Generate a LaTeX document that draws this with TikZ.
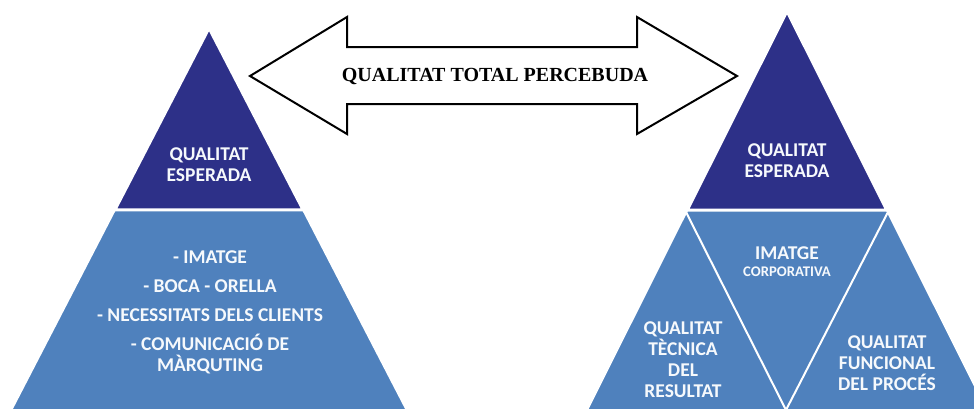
\documentclass[tikz,border=0pt]{standalone}
\usepackage{fontspec}
\setmainfont{Carlito}
\newfontfamily\titlefont{Liberation Serif}
\usepackage{xcolor}
\usetikzlibrary{calc}

\definecolor{darkblue}{RGB}{45,48,136}
\definecolor{lightblue}{RGB}{79,129,189}
\newcommand{\smalllabeltext}{\fontsize{14.7}{17}\selectfont}

\begin{document}
\begin{tikzpicture}[x=1pt, y=-1pt,
        level/.style={draw=white, line width=2pt, line join=round},
        toplevel/.style={level, fill=darkblue, line width=3pt},
        baselevel/.style={level, fill=lightblue},
        label/.style={align=center, text=white!95!lightblue, inner sep=0pt, font=\bfseries\fontsize{19.5}{21}\selectfont},
        bigarrow/.style={draw=black, line width=2pt, fill=white, line join=miter}]

        \useasboundingbox (0,0) rectangle (974,408);
        \clip (0,0) rectangle (974,408);

        % Left pyramid
        \coordinate (lapex) at (209,28);
        \coordinate (lbl) at (3,426);
        \coordinate (lbr) at (415,426);
        \filldraw[baselevel] (lapex) -- (lbl) -- (lbr) -- cycle;
        \filldraw[toplevel] (lapex) -- ($(lapex)!0.457!(lbl)$) -- ($(lapex)!0.457!(lbr)$) -- cycle;

        \node[label] (lesperada) at (209,165) {QUALITAT\\ESPERADA};
        \node[label] (lfactors) at (210,312) {- IMATGE\\[8pt]
            - BOCA - ORELLA\\[8pt]
            - NECESSITATS DELS CLIENTS\\[8pt]
            - COMUNICACIÓ DE\\MÀRQUTING};

        % Right pyramid
        \coordinate (rapex) at (787,11);
        \coordinate (rbl) at (582,420);
        \coordinate (rbr) at (992,420);
        \filldraw[baselevel] (rapex) -- (rbl) -- (rbr) -- cycle;
        \filldraw[toplevel] (rapex) -- ($(rapex)!0.4866!(rbl)$) -- ($(rapex)!0.4866!(rbr)$) -- cycle;
        \draw[level] (686,212) -- (786,410) -- (888,212);

        \node[label] (resperada) at (787,161) {QUALITAT\\ESPERADA};
        \node[label] (rimatge) at (787,262) {IMATGE\\[-4pt]{\smalllabeltext CORPORATIVA}};
        \node[label] (rtecnica) at (683,360) {QUALITAT\\TÈCNICA\\DEL\\RESULTAT};
        \node[label] (rfuncional) at (887,363) {QUALITAT\\FUNCIONAL\\DEL PROCÉS};

        % Double arrow between pyramids
        \filldraw[bigarrow] (250,76) -- (347,17) -- (347,47) -- (637,47) -- (637,17)
            -- (737,76) -- (637,134) -- (637,104) -- (347,104) -- (347,134) -- cycle;
        \node[inner sep=0pt, font=\titlefont\bfseries\fontsize{20}{22}\selectfont] (total) at (495,76) {QUALITAT TOTAL PERCEBUDA};

    \end{tikzpicture}
\end{document}
